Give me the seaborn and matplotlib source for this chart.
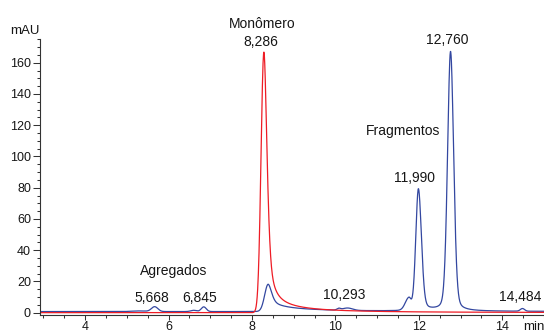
import numpy as np
import pandas as pd
import matplotlib
matplotlib.use("Agg")
import matplotlib.pyplot as plt
from matplotlib.ticker import MultipleLocator
import seaborn as sns

# Peak table of the sample chromatogram (blue trace)
blue_rt = [5.30, 5.668, 6.60, 6.845, 8.390, 10.08, 10.293, 11.76, 11.990, 12.760, 14.484]
blue_height = [0.4, 3.1, 0.8, 3.0, 17.5, 1.0, 1.5, 7.5, 78.0, 166.0, 1.7]
blue_hw_left = [0.20, 0.09, 0.08, 0.07, 0.10, 0.05, 0.14, 0.10, 0.075, 0.085, 0.06]
blue_hw_right = [0.20, 0.09, 0.08, 0.07, 0.10, 0.05, 0.14, 0.06, 0.085, 0.088, 0.06]
blue_eta_left = [0, 0, 0, 0, 0, 0, 0, 0, 0.15, 0.2, 0]
blue_eta_right = [0, 0, 0, 0, 0.5, 0, 0, 0, 0.15, 0.2, 0]
blue_tail = [0, 0, 0, 0, 6.0, 0, 0, 0, 3.0, 0, 0]
blue_tail_w = [1, 1, 1, 1, 1.0, 1, 1, 1, 0.3, 1, 1]
blue_base = 0.7

# Peak table of the monomer reference (red trace)
red_rt = [8.286]
red_height = [166.8]
red_hw_left = [0.08]
red_hw_right = [0.09]
red_eta_left = [0.0]
red_eta_right = [0.6]
red_tail = [10.0]
red_tail_w = [1.0]
red_base = 0.0

x_ticks = [4, 6, 8, 10, 12, 14]
y_ticks = [0, 20, 40, 60, 80, 100, 120, 140, 160]

t = np.linspace(2.9, 15.0, 3000)


def chromatogram(t, base, rt, h, wl, wr, el, er, ta, tw):
    y = np.full_like(t, base, dtype=float)
    for r, hh, a, b, ea, eb, amp, tau in zip(rt, h, wl, wr, el, er, ta, tw):
        d = t - r
        w = np.where(d < 0, a, b)
        eta = np.where(d < 0, ea, eb)
        u = (d / w) ** 2
        gauss = np.exp(-np.log(2) * u)
        shape = (1 - eta) * gauss + eta / (1 + u)
        tail = np.where(d < 0, gauss, 1.0 / (1 + np.maximum(d, 0) / tau) ** 2)
        y += (hh - amp) * shape + amp * tail
    return y


blue = chromatogram(t, blue_base, blue_rt, blue_height, blue_hw_left, blue_hw_right,
                    blue_eta_left, blue_eta_right, blue_tail, blue_tail_w)
red = chromatogram(t, red_base, red_rt, red_height, red_hw_left, red_hw_right,
                   red_eta_left, red_eta_right, red_tail, red_tail_w)

df = pd.concat([
    pd.DataFrame({"t": t, "mAU": blue, "trace": "amostra"}),
    pd.DataFrame({"t": t, "mAU": red, "trace": "monômero"}),
])

sns.set_theme(style="ticks")
plt.rcParams["font.family"] = ["Liberation Sans", "DejaVu Sans"]
ink = "#161616"

fig = plt.figure(figsize=(5.44, 3.32), dpi=100)
ax = fig.add_axes([40 / 544, 17 / 332, 504 / 544, 276 / 332])

sns.lineplot(data=df, x="t", y="mAU", hue="trace", hue_order=["amostra", "monômero"],
             palette={"amostra": "#3347a0", "monômero": "#ee1c25"},
             estimator=None, sort=False, errorbar=None, legend=False,
             linewidth=0.9, ax=ax)

ax.set_xlim(2.92, 15.0)
ax.set_ylim(-1.5, 175.2)
ax.set_xticks(x_ticks)
ax.set_yticks(y_ticks)
ax.xaxis.set_minor_locator(MultipleLocator(0.5))
ax.yaxis.set_minor_locator(MultipleLocator(5))
ax.set_xlabel("")
ax.set_ylabel("")
sns.despine(ax=ax)
for side in ("left", "bottom"):
    ax.spines[side].set_color("#333333")
    ax.spines[side].set_linewidth(0.8)

ax.tick_params(axis="y", which="major", length=5, width=0.75, pad=1.5,
               labelsize=9, colors="#333333", labelcolor=ink)
ax.tick_params(axis="y", which="minor", length=2.5, width=0.75, colors="#333333")
ax.tick_params(axis="x", which="major", length=3.3, width=0.75, pad=0.8,
               labelsize=9, colors="#333333", labelcolor=ink)
ax.tick_params(axis="x", which="minor", length=2.3, width=0.75, colors="#333333")


def rt_label(v):
    return f"{v:.3f}".replace(".", ",")


fs = 10
ax.text(2.546, 178.4, "mAU", ha="center", va="baseline", fontsize=9.5, color=ink)
ax.text(14.49, -11.4, "min", ha="left", va="baseline", fontsize=9.5, color=ink)

ax.text(8.25, 182.0, "Monômero", ha="center", va="baseline", fontsize=fs, color=ink)
ax.text(8.216, 170.7, rt_label(red_rt[0]), ha="center", va="baseline", fontsize=fs, color=ink)
ax.text(12.69, 172.0, rt_label(blue_rt[9]), ha="center", va="baseline", fontsize=fs, color=ink)
ax.text(11.63, 113.7, "Fragmentos", ha="center", va="baseline", fontsize=fs, color=ink)
ax.text(11.90, 83.8, rt_label(blue_rt[8]), ha="center", va="baseline", fontsize=fs, color=ink)
ax.text(6.13, 23.8, "Agregados", ha="center", va="baseline", fontsize=fs, color=ink)
ax.text(5.588, 7.0, rt_label(blue_rt[1]), ha="center", va="baseline", fontsize=fs, color=ink)
ax.text(6.755, 7.0, rt_label(blue_rt[3]), ha="center", va="baseline", fontsize=fs, color=ink)
ax.text(10.20, 9.0, rt_label(blue_rt[6]), ha="center", va="baseline", fontsize=fs, color=ink)
ax.text(14.42, 7.5, rt_label(blue_rt[10]), ha="center", va="baseline", fontsize=fs, color=ink)

fig.savefig("out.png", dpi=100)
